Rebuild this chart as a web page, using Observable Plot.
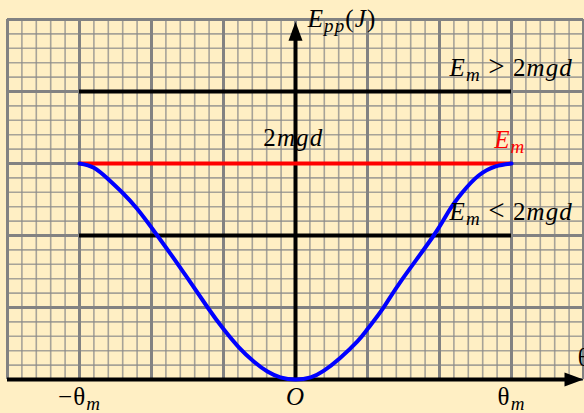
<!DOCTYPE html>
<html>
<head>
<meta charset="utf-8">
<script src="https://cdn.jsdelivr.net/npm/d3@7"></script>
<script src="https://cdn.jsdelivr.net/npm/@observablehq/plot@0.6"></script>
<style>
  html, body { margin: 0; padding: 0; background: #FFEFC4; }
  #chart svg { display: block; }
</style>
</head>
<body>
<div id="chart"></div>
<script>
// Potential energy of the pendulum versus angle (grid units: 1 major square)
const theta  = [-3, -2.8, -2.6, -2.4, -2.2, -1.92, -1.57, -1.22, -1.0, -0.79, -0.58, -0.39, -0.21, 0,
                0.21, 0.39, 0.62, 0.86, 1.0, 1.21, 1.46, 1.92, 2.13, 2.32, 2.54, 2.78, 3];
const energy = [3, 2.94, 2.78, 2.59, 2.37, 2.0, 1.51, 1.0, 0.7, 0.45, 0.25, 0.11, 0.03, 0,
                0.03, 0.12, 0.3, 0.53, 0.7, 0.98, 1.36, 2.0, 2.34, 2.6, 2.83, 2.96, 3];

// Energy levels drawn as horizontal lines between -θm and θm
const thetaMax = 3;
const levelAbove = 4;   // Em > 2mgd
const levelMax = 3;     // Em (= 2mgd)
const levelBelow = 2;   // Em < 2mgd

// Axis labels along θ
const tickPositions = [-3, 0, 3];
const tickLabels = ["−θ_{m}", "O", "θ_{m}"];

// Annotations
const noteText  = ["E_{pp}(J)", "E_{m} > 2mgd", "2mgd", "E_{m}", "E_{m} < 2mgd", "θ"];
const noteX     = [0.17, 2.14, -0.03, 2.76, 2.14, 3.92];
const noteY     = [4.89, 4.21, 3.24, 3.22, 2.22, 0.19];
const noteAlign = ["start", "start", "middle", "start", "start", "start"];
const noteColor = ["black", "black", "black", "red", "black", "black"];

// Frame of the plotting grid
const xExtent = [-4, 4];
const yExtent = [0, 5];
const yAxisTop = 4.97;

const curve = theta.map((t, i) => ({t, e: energy[i]}));
const notes = noteText.map((s, i) => ({s, x: noteX[i], y: noteY[i], a: noteAlign[i], c: noteColor[i]}));
const ticks = tickPositions.map((x, i) => ({x, s: tickLabels[i]}));
const levels = [
  {y: levelAbove, c: "black"},
  {y: levelBelow, c: "black"},
  {y: levelMax, c: "#ff0000"}
];

const minorX = d3.range(xExtent[0], xExtent[1] + 1e-6, 0.2);
const minorY = d3.range(yExtent[0], yExtent[1] + 1e-6, 0.2);
const majorX = d3.range(xExtent[0], xExtent[1] + 1e-6, 1);
const majorY = d3.range(yExtent[0], yExtent[1] + 1e-6, 1);

// Filled arrowhead with its tip at the origin, pointing right
const arrowHead = {
  draw(context) {
    context.moveTo(0, 0);
    context.lineTo(-19, -7);
    context.lineTo(-19, 7);
    context.closePath();
  }
};

const font = {fontFamily: "'Liberation Serif', 'Times New Roman', serif", fontSize: 25, fontStyle: "italic"};

const chart = Plot.plot({
  width: 584,
  height: 413,
  marginLeft: 7,
  marginRight: 1,
  marginTop: 19,
  marginBottom: 34,
  style: {background: "transparent", overflow: "visible"},
  x: {domain: xExtent, axis: null},
  y: {domain: yExtent, axis: null},
  marks: [
    Plot.ruleX(minorX, {y1: yExtent[0], y2: yExtent[1], stroke: "#8a8a8a", strokeWidth: 1.6, strokeOpacity: 0.75}),
    Plot.ruleY(minorY, {x1: xExtent[0], x2: xExtent[1], stroke: "#8a8a8a", strokeWidth: 1.6, strokeOpacity: 0.75}),
    Plot.ruleX(majorX, {y1: yExtent[0], y2: yExtent[1], stroke: "#828282", strokeWidth: 3}),
    Plot.ruleY(majorY, {x1: xExtent[0], x2: xExtent[1], stroke: "#828282", strokeWidth: 3}),
    // axes
    Plot.ruleY([0], {x1: xExtent[0], x2: xExtent[1] - 0.2, stroke: "black", strokeWidth: 4}),
    Plot.ruleX([0], {y1: 0, y2: yAxisTop - 0.2, stroke: "black", strokeWidth: 4}),
    Plot.dot([{x: xExtent[1], y: 0}], {x: "x", y: "y", symbol: arrowHead, fill: "black", stroke: "none"}),
    Plot.dot([{x: 0, y: yAxisTop}], {x: "x", y: "y", symbol: arrowHead, fill: "black", stroke: "none", rotate: -90}),
    // energy levels
    Plot.ruleY(levels, {y: "y", x1: -thetaMax, x2: thetaMax, stroke: "c", strokeWidth: 4}),
    // potential energy curve
    Plot.line(curve, {x: "t", y: "e", stroke: "#0000ff", strokeWidth: 4, curve: "natural"}),
    // labels
    Plot.text(notes, {x: "x", y: "y", text: "s", textAnchor: "start", lineAnchor: "bottom", fill: "c",
      filter: d => d.a === "start", ...font}),
    Plot.text(notes, {x: "x", y: "y", text: "s", textAnchor: "middle", lineAnchor: "bottom", fill: "c",
      filter: d => d.a === "middle", ...font}),
    Plot.text(ticks, {x: "x", y: -0.36, text: "s", textAnchor: "middle", lineAnchor: "bottom", fill: "black", ...font})
  ]
});

// Turn "_{...}" into subscripts, keep symbols upright and enlarge relation signs
const NS = "http://www.w3.org/2000/svg";
const upright = /[θ−<>()0-9 ]/;
const relation = /[<>]/;
function styleRuns(str) {
  const runs = [];
  for (const ch of str) {
    const it = !upright.test(ch) || (ch === " " && runs.length && runs[runs.length - 1].italic);
    const rel = relation.test(ch);
    const prev = runs[runs.length - 1];
    if (prev && prev.italic === it && prev.rel === rel) prev.t += ch;
    else runs.push({t: ch, italic: it, rel});
  }
  return runs;
}
function richText(el) {
  const s = el.textContent;
  if (!s) return;
  const parts = [];
  const re = /_\{([^}]*)\}/g;
  let last = 0, m;
  while ((m = re.exec(s))) {
    if (m.index > last) parts.push({t: s.slice(last, m.index), sub: false});
    parts.push({t: m[1], sub: true});
    last = re.lastIndex;
  }
  if (last < s.length) parts.push({t: s.slice(last), sub: false});
  el.textContent = "";
  el.setAttribute("letter-spacing", "1.1");
  let shifted = false;
  for (const p of parts) {
    for (const r of styleRuns(p.t)) {
      const ts = document.createElementNS(NS, "tspan");
      ts.textContent = r.t;
      ts.setAttribute("font-style", r.italic ? "italic" : "normal");
      if (r.rel) ts.setAttribute("font-size", 29);
      if (p.sub) {
        ts.setAttribute("font-size", 19);
        if (!shifted) { ts.setAttribute("dy", 5); shifted = true; }
      } else if (shifted) {
        ts.setAttribute("dy", -5); shifted = false;
      }
      el.appendChild(ts);
    }
  }
}
chart.querySelectorAll("text").forEach(richText);

document.getElementById("chart").appendChild(chart);
</script>
</body>
</html>
